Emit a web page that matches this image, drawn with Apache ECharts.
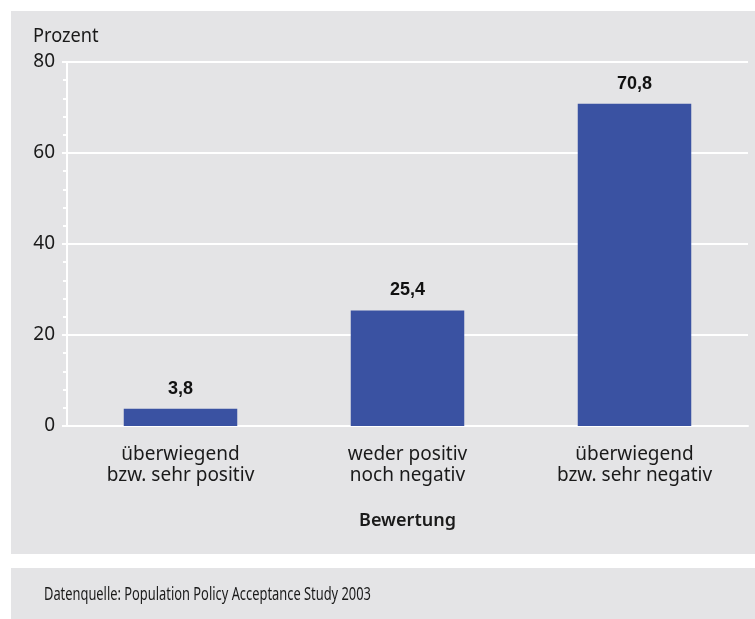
<!DOCTYPE html>
<html>
<head>
<meta charset="utf-8">
<script src="https://cdn.jsdelivr.net/npm/echarts@6/dist/echarts.min.js"></script>
<style>
  html, body { margin: 0; padding: 0; background: #ffffff; }
  #chart { width: 755px; height: 619px; }
</style>
</head>
<body>
<div id="chart"></div>
<script>
// Bewertung der Bevölkerungsentwicklung (Anteile in Prozent)
const categories = ['überwiegend\nbzw. sehr positiv', 'weder positiv\nnoch negativ', 'überwiegend\nbzw. sehr negativ'];
const values = [3.8, 25.4, 70.8];
const yTicks = [0, 20, 40, 60, 80];

const FONT = '"Noto Sans", "Open Sans", sans-serif';
const VALUE_FONT = '"Liberation Sans", Arial, sans-serif';
const PANEL = '#e4e4e6';
const BAR = '#3a52a2';
const TEXT = '#1a1a1a';

const chart = echarts.init(document.getElementById('chart'));

chart.setOption({
  backgroundColor: '#ffffff',
  animation: false,
  graphic: [
    { type: 'rect', z: -10, shape: { x: 11, y: 11, width: 744, height: 543 }, style: { fill: PANEL } },
    { type: 'rect', z: -10, shape: { x: 11, y: 568, width: 744, height: 51 }, style: { fill: PANEL } },
    {
      type: 'text', x: 33, y: 36, scaleX: 0.91,
      style: { x: 0, y: 0, text: 'Prozent', font: '20px ' + FONT, fill: TEXT, verticalAlign: 'middle' }
    },
    {
      type: 'text', x: 44, y: 595, scaleX: 0.715,
      style: { x: 0, y: 0, text: 'Datenquelle: Population Policy Acceptance Study 2003', font: '18px ' + FONT, fill: TEXT, verticalAlign: 'middle' }
    }
  ],
  grid: { left: 67, right: 7, top: 62, bottom: 193, containLabel: false },
  xAxis: {
    type: 'category',
    data: categories,
    name: 'Bewertung',
    nameLocation: 'middle',
    nameGap: 86,
    nameTextStyle: { fontFamily: FONT, fontSize: 18, color: TEXT, fontWeight: 600 },
    axisLine: { show: true, lineStyle: { color: '#ffffff', width: 2 } },
    axisTick: { show: false },
    axisLabel: { fontFamily: FONT, fontSize: 19, color: TEXT, lineHeight: 21, margin: 18 },
    splitLine: { show: false }
  },
  yAxis: {
    type: 'value',
    min: yTicks[0],
    max: yTicks[yTicks.length - 1],
    interval: 20,
    axisLine: { show: true, lineStyle: { color: '#ffffff', width: 2 } },
    axisTick: { show: true, length: 5, lineStyle: { color: '#ffffff', width: 2 } },
    minorTick: { show: true, splitNumber: 5, length: 4, lineStyle: { color: '#ffffff', width: 2 } },
    axisLabel: { fontFamily: FONT, fontSize: 19, color: TEXT, margin: 12 },
    splitLine: { show: true, lineStyle: { color: '#ffffff', width: 2 } }
  },
  series: [{
    type: 'bar',
    data: values,
    barWidth: '50%',
    itemStyle: { color: BAR },
    label: {
      show: true,
      position: 'top',
      distance: 11,
      fontFamily: VALUE_FONT,
      fontSize: 18,
      fontWeight: 'bold',
      color: '#111111',
      formatter: p => String(p.value).replace('.', ',')
    }
  }]
});
</script>
</body>
</html>
